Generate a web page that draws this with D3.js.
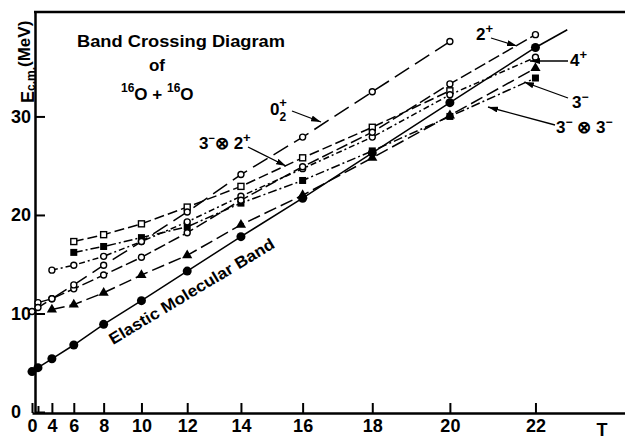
<!DOCTYPE html>
<html>
<head>
<meta charset="utf-8">
<script src="https://cdn.jsdelivr.net/npm/d3@7"></script>
<style>
body { margin: 0; background: #fff; }
svg { display: block; font-family: "Liberation Sans Narrow", "Liberation Sans", Arial, sans-serif; font-weight: bold; }
</style>
</head>
<body>
<svg width="625" height="439"></svg>
<script>
// spins on the x axis (plotted on a J(J+1) scale) and E_cm in MeV
var spinTicks = [0, 2, 4, 6, 8, 10, 12, 14, 16, 18, 20, 22];
var yTicks = [0, 10, 20, 30];

var elasticJ = [0, 2, 4, 6, 8, 10, 12, 14, 16, 18, 20, 22];
var elasticE = [4.1, 4.5, 5.4, 6.8, 8.9, 11.3, 14.3, 17.8, 21.7, 26.3, 31.4, 37.0];
var elasticTailJ = [22, 22.7];
var elasticTailE = [37.0, 38.8];

var zero2J = [0, 2, 4, 6, 8, 10, 12, 14, 16, 18, 20];
var zero2E = [10.2, 10.6, 11.5, 12.9, 14.9, 17.3, 20.3, 24.1, 27.9, 32.5, 37.6];

var twoJ = [2, 4, 6, 8, 10, 12, 14, 16, 18, 20, 22];
var twoE = [11.1, 11.5, 12.5, 13.9, 15.7, 18.2, 21.5, 24.9, 28.4, 33.3, 38.3];

var fourJ = [4, 6, 8, 10, 12, 14, 16, 18, 20, 22];
var fourE = [14.4, 14.9, 15.8, 17.3, 19.3, 21.9, 24.7, 27.9, 32.2, 36.0];

var openSqJ = [6, 8, 10, 12, 14, 16, 18, 20];
var openSqE = [17.3, 18.0, 19.1, 20.8, 22.9, 25.8, 28.9, 32.6];

var fillSqJ = [6, 8, 10, 12, 14, 16, 18, 20, 22];
var fillSqE = [16.2, 16.8, 17.7, 18.8, 21.2, 23.5, 26.5, 30.0, 33.9];

var triJ = [4, 6, 8, 10, 12, 14, 16, 18, 20, 22];
var triE = [10.4, 10.9, 12.1, 13.9, 15.9, 19.0, 22.0, 25.8, 30.1, 34.9];

var svg = d3.select("svg");

var jj = function(j) { return j * (j + 1); };
var x = d3.scaleLinear().domain([0, 596]).range([32, 625]);
var y = d3.scaleLinear().domain([0, 40.6]).range([412, 12]);

var zip = function(js, es) { return js.map(function(j, i) { return {j: j, e: es[i]}; }); };

var series = [
    {pts: zip(fillSqJ, fillSqE), mark: "fsq", dash: "9,3,2,3"},
    {pts: zip(triJ, triE), mark: "tri", dash: "13,5"},
    {pts: zip(openSqJ, openSqE), mark: "osq", dash: "10,4"},
    {pts: zip(fourJ, fourE), mark: "oc", dash: "6,3,2,3"},
    {pts: zip(twoJ, twoE), mark: "oc", dash: "12,4"},
    {pts: zip(zero2J, zero2E), mark: "oc", dash: "17,7"},
    {pts: zip(elasticJ, elasticE), mark: "fc", dash: null}
];

var line = d3.line()
    .x(function(d) { return x(jj(d.j)); })
    .y(function(d) { return y(d.e); });

// axes
var xAxis = d3.axisBottom(x)
    .tickValues(spinTicks.map(jj))
    .tickFormat(function(d, i) { return spinTicks[i] === 2 ? "" : spinTicks[i]; })
    .tickSize(-10).tickSizeOuter(0).tickPadding(6);

var gx = svg.append("g").attr("transform", "translate(0,413)").call(xAxis);
gx.select(".domain").attr("stroke-width", 2.5);
gx.selectAll(".tick line").attr("stroke-width", 2)
    .attr("y2", function(d) { return d === jj(2) ? -7 : -10; });
gx.selectAll(".tick text").attr("font-size", 18).attr("font-family", null).attr("fill", "#000");

var yAxis = d3.axisLeft(y).tickValues(yTicks).tickSize(-10).tickSizeOuter(0).tickPadding(4);
var gy = svg.append("g").attr("transform", "translate(35,0)").call(yAxis);
gy.select(".domain").attr("stroke-width", 2.5);
gy.selectAll(".tick line").attr("stroke-width", 2);
gy.selectAll(".tick text").attr("font-size", 18).attr("font-family", null).attr("fill", "#000")
    .attr("dx", function(d) { return d === 0 ? -10 : 0; });

svg.append("line")
    .attr("x1", 34).attr("x2", 625)
    .attr("y1", y(40.6)).attr("y2", y(40.6))
    .attr("stroke", "#000").attr("stroke-width", 2.5);

svg.append("text").attr("x", 602).attr("y", 436)
    .attr("text-anchor", "middle").attr("font-size", 18).text("T");

// band lines
svg.append("path")
    .datum(zip(elasticTailJ, elasticTailE))
    .attr("d", line).attr("fill", "none").attr("stroke", "#000").attr("stroke-width", 1.6);

series.forEach(function(s) {
    svg.append("path")
        .datum(s.pts)
        .attr("d", line)
        .attr("fill", "none")
        .attr("stroke", "#000")
        .attr("stroke-width", 1.5)
        .attr("stroke-dasharray", s.dash);
});

// markers
series.forEach(function(s) {
    var g = svg.append("g");
    s.pts.forEach(function(d) {
        var px = x(jj(d.j)), py = y(d.e);
        if (s.mark === "fc")
            g.append("circle").attr("cx", px).attr("cy", py).attr("r", 4.5).attr("fill", "#000");
        else if (s.mark === "oc")
            g.append("circle").attr("cx", px).attr("cy", py).attr("r", 3)
                .attr("fill", "#fff").attr("stroke", "#000").attr("stroke-width", 1.4);
        else if (s.mark === "osq")
            g.append("rect").attr("x", px - 3).attr("y", py - 3).attr("width", 6).attr("height", 6)
                .attr("fill", "#fff").attr("stroke", "#000").attr("stroke-width", 1.4);
        else if (s.mark === "fsq")
            g.append("rect").attr("x", px - 3.5).attr("y", py - 3.5).attr("width", 7).attr("height", 7)
                .attr("fill", "#000");
        else if (s.mark === "tri")
            g.append("path").attr("d", d3.symbol(d3.symbolTriangle, 45)())
                .attr("transform", "translate(" + px + "," + py + ")").attr("fill", "#000");
    });
});

// titles and labels
svg.append("text").attr("x", 77).attr("y", 47).attr("font-size", 17)
    .attr("textLength", 208).attr("lengthAdjust", "spacingAndGlyphs").text("Band Crossing Diagram");
svg.append("text").attr("x", 157).attr("y", 71).attr("font-size", 17)
    .attr("text-anchor", "middle").text("of");

var nuc = svg.append("text").attr("x", 121).attr("y", 100).attr("font-size", 17);
nuc.append("tspan").attr("font-size", 12).attr("dy", -8).text("16");
nuc.append("tspan").attr("dy", 8).text("O + ");
nuc.append("tspan").attr("font-size", 12).attr("dy", -8).text("16");
nuc.append("tspan").attr("dy", 8).text("O");

var ylab = svg.append("text").attr("transform", "translate(34,103) rotate(-90)").attr("font-size", 18);
ylab.append("tspan").text("E");
ylab.append("tspan").attr("font-size", 12).attr("dy", 1).text("c.m.");
ylab.append("tspan").attr("font-size", 17).attr("dy", -5).text("(MeV)");

svg.append("text")
    .attr("transform", "translate(113,345) rotate(-31)")
    .attr("font-size", 16).attr("textLength", 190).attr("lengthAdjust", "spacingAndGlyphs")
    .text("Elastic Molecular Band");

// band names with arrows
var defs = svg.append("defs");
defs.append("marker").attr("id", "head")
    .attr("viewBox", "0 0 10 6").attr("refX", 10).attr("refY", 3)
    .attr("markerWidth", 10).attr("markerHeight", 6).attr("markerUnits", "userSpaceOnUse")
    .attr("orient", "auto")
    .append("path").attr("d", "M0,0L10,3L0,6Z").attr("fill", "#000");

var arrows = [[292, 111, 321, 122], [248, 147, 286, 166], [491, 38, 517, 46],
              [568, 61, 530, 61], [568, 98, 524, 82], [555, 125, 488, 107]];
arrows.forEach(function(a) {
    svg.append("line").attr("x1", a[0]).attr("y1", a[1]).attr("x2", a[2]).attr("y2", a[3])
        .attr("stroke", "#000").attr("stroke-width", 1.3).attr("marker-end", "url(#head)");
});

var lab = function(px, py, parts) {
    var t = svg.append("text").attr("x", px).attr("y", py).attr("font-size", 17);
    parts.forEach(function(p) {
        t.append("tspan").attr("font-size", p[1] || 17).attr("dy", p[2] || 0)
            .attr("dx", p[3] || 0).text(p[0]);
    });
    return t;
};
lab(270, 115, [["0"], ["2", 12, 6], ["+", 13, -14, -7]]);
lab(199, 149, [["3"], ["\u2212", 11, -7], ["\u2297", 17, 7], [" 2"], ["+", 13, -7]]);
lab(476, 40, [["2"], ["+", 13, -7]]);
lab(570, 66, [["4"], ["+", 13, -7]]);
lab(572, 108, [["3"], ["\u2212", 12, -7]]);
lab(556, 133, [["3"], ["\u2212", 12, -7], [" \u2297 ", 17, 7], ["3"], ["\u2212", 12, -7]]);
</script>
</body>
</html>
